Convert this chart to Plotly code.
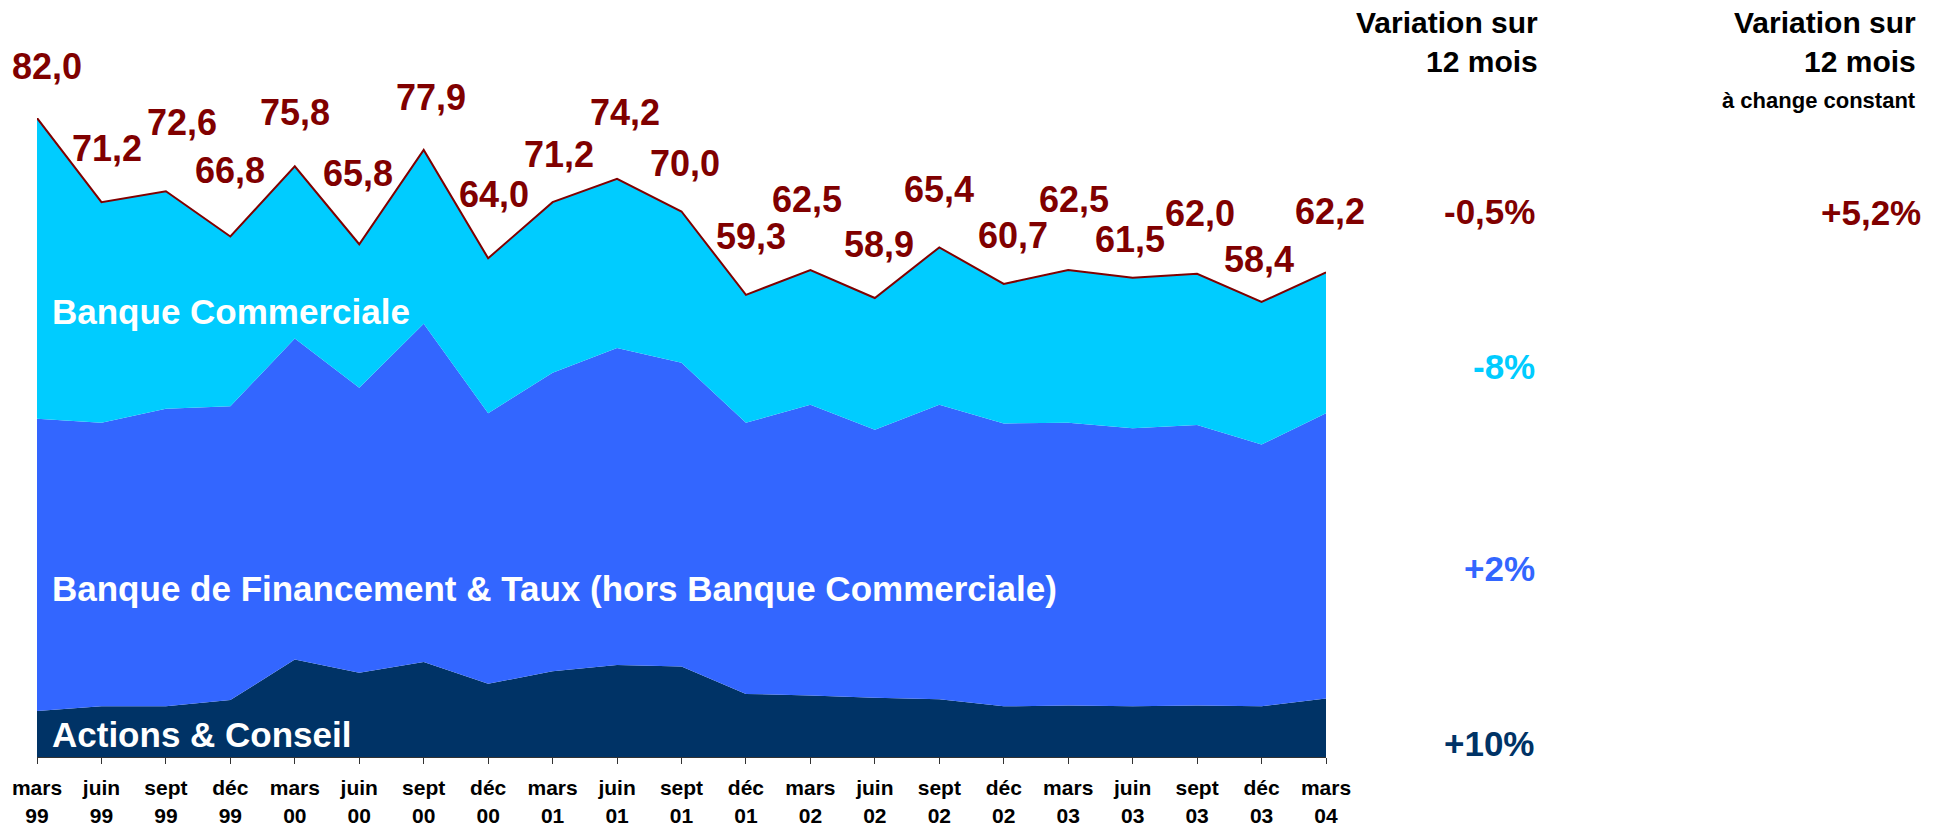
import plotly.graph_objects as go

# ---------------- data ----------------
months = ["mars", "juin", "sept", "déc", "mars", "juin", "sept", "déc", "mars", "juin", "sept",
          "déc", "mars", "juin", "sept", "déc", "mars", "juin", "sept", "déc", "mars"]
years = ["99", "99", "99", "99", "00", "00", "00", "00", "01", "01", "01",
         "01", "02", "02", "02", "02", "03", "03", "03", "03", "04"]

actions_conseil = [5.9, 6.5, 6.5, 7.3, 12.5, 10.8, 12.2, 9.4, 11.0, 11.8, 11.6,
                   8.1, 7.9, 7.6, 7.4, 6.5, 6.6, 6.5, 6.6, 6.5, 7.5]
financement_taux = [37.5, 36.4, 38.2, 37.7, 41.2, 36.6, 43.4, 34.7, 38.3, 40.7, 39.0,
                    34.8, 37.3, 34.4, 37.8, 36.3, 36.3, 35.7, 36.0, 33.6, 36.6]
banque_commerciale = [38.6, 28.3, 27.9, 21.8, 22.1, 18.4, 22.3, 19.9, 21.9, 21.7, 19.4,
                      16.4, 17.3, 16.9, 20.2, 17.9, 19.6, 19.3, 19.4, 18.3, 18.1]

series_names = ["Actions & Conseil",
                "Banque de Financement & Taux (hors Banque Commerciale)",
                "Banque Commerciale"]
variation_12m = ["+10%", "+2%", "-8%"]
total_variation = "-0,5%"
total_variation_cc = "+5,2%"

# ---------------- layout constants ----------------
W, H = 1937, 828
L, R, T, B = 37, 611, 118, 71
PW, PH = W - L - R, H - T - B

C_NAVY = "#003366"
C_BLUE = "#3366FF"
C_CYAN = "#00CCFF"
C_RED = "#800000"
FONT = "Liberation Sans, Arial, sans-serif"

# label offsets (pixels) for the total labels above each point
label_dx = [10, 6, 16, 0, 0, -1, 7, 6, 6, 8, 3, 5, -3, 4, 0, 9, 6, -3, 3, -3, 4]
label_dy = [52, 54, 69, 66, 54, 71, 52, 64, 48, 66, 48, 58, 70, 54, 58, 48, 70, 38, 60, 42, 61]


def px(x):
    return (x - L) / PW


def py(y):
    return (H - B - y) / PH


x = list(range(len(months)))
totals = [round(a + b + c, 1) for a, b, c in zip(actions_conseil, financement_taux, banque_commerciale)]

fig = go.Figure()
fig.add_trace(go.Scatter(x=x, y=actions_conseil, stackgroup="s", mode="lines",
                         line=dict(width=0, color=C_NAVY), fillcolor=C_NAVY,
                         name=series_names[0], hoverinfo="skip"))
fig.add_trace(go.Scatter(x=x, y=financement_taux, stackgroup="s", mode="lines",
                         line=dict(width=0, color=C_BLUE), fillcolor=C_BLUE,
                         name=series_names[1], hoverinfo="skip"))
fig.add_trace(go.Scatter(x=x, y=banque_commerciale, stackgroup="s", mode="lines",
                         line=dict(width=2, color=C_RED), fillcolor=C_CYAN,
                         name=series_names[2], hoverinfo="skip"))

ann = []
# total labels
for i, t in enumerate(totals):
    ann.append(dict(x=i, y=t, xref="x", yref="y", text=f"{t:.1f}".replace(".", ","),
                    showarrow=False, xanchor="center", yanchor="middle",
                    xshift=label_dx[i], yshift=label_dy[i],
                    font=dict(family=FONT, size=36, color=C_RED, weight="bold")))

# series names inside areas
for name, yc in zip(series_names, [734, 588, 311]):
    ann.append(dict(x=px(50), y=py(yc), xref="paper", yref="paper", text=name,
                    showarrow=False, xanchor="left", yanchor="middle",
                    font=dict(family=FONT, size=35, color="white", weight="bold")))

# headers
for xr in [1540, 1918]:
    ann.append(dict(x=px(xr), y=py(4), xref="paper", yref="paper",
                    text="Variation sur<br>12 mois", showarrow=False, align="right",
                    xanchor="right", yanchor="top",
                    font=dict(family=FONT, size=30, color="black", weight="bold")))
ann.append(dict(x=px(1918), y=py(100), xref="paper", yref="paper",
                text="à change constant", showarrow=False, xanchor="right", yanchor="middle",
                font=dict(family=FONT, size=22, color="black", weight="bold")))

# variations
for txt, yc, col in zip(variation_12m, [743, 568, 366], [C_NAVY, C_BLUE, C_CYAN]):
    ann.append(dict(x=px(1537), y=py(yc), xref="paper", yref="paper", text=txt,
                    showarrow=False, xanchor="right", yanchor="middle",
                    font=dict(family=FONT, size=35, color=col, weight="bold")))
ann.append(dict(x=px(1537), y=py(211), xref="paper", yref="paper", text=total_variation,
                showarrow=False, xanchor="right", yanchor="middle",
                font=dict(family=FONT, size=35, color=C_RED, weight="bold")))
ann.append(dict(x=px(1923), y=py(212), xref="paper", yref="paper", text=total_variation_cc,
                showarrow=False, xanchor="right", yanchor="middle",
                font=dict(family=FONT, size=35, color=C_RED, weight="bold")))

fig.update_layout(
    width=W, height=H,
    margin=dict(l=L, r=R, t=T, b=B, pad=0, autoexpand=False),
    paper_bgcolor="white", plot_bgcolor="white",
    showlegend=False,
    annotations=ann,
    xaxis=dict(range=[0, len(months) - 1], tickmode="array", tickvals=x,
               ticktext=[f"{m}<br>{y}" for m, y in zip(months, years)],
               showgrid=False, zeroline=False, showline=True, linecolor="#333333", linewidth=1,
               ticks="outside", ticklen=6, tickcolor="#333333", ticklabelstandoff=6,
               automargin=False,
               tickfont=dict(family=FONT, size=21, color="black", weight="bold")),
    yaxis=dict(range=[0, 82], showgrid=False, zeroline=False, showline=False,
               showticklabels=False, ticks="", automargin=False),
)

fig.write_html("out.html", config={"displayModeBar": False},
               post_script="document.body.style.margin='0';document.body.style.overflow='hidden';")
